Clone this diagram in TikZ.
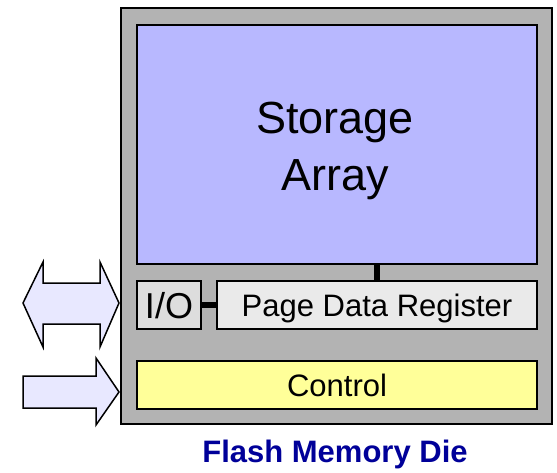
\documentclass[tikz,border=0pt]{standalone}
\usepackage{fontspec}
\setmainfont{Liberation Sans}
\definecolor{diegray}{RGB}{179,179,179}
\definecolor{arrayblue}{RGB}{184,184,255}
\definecolor{iogray}{RGB}{221,221,221}
\definecolor{reggray}{RGB}{234,234,234}
\definecolor{ctrlyellow}{RGB}{255,255,153}
\definecolor{arrowfill}{RGB}{232,232,255}
\definecolor{titleblue}{RGB}{0,0,153}
\tikzset{
    block/.style={draw=black, line width=2pt, anchor=north west, inner sep=0pt, align=center},
    rowtext/.style={text depth=0pt, font=\fontsize{31}{36}\selectfont},
    link/.style={line width=6pt},
    port/.style={draw=black, line width=1.5pt, fill=arrowfill, line join=miter}
}
\begin{document}
\begin{tikzpicture}[x=1pt, y=-1pt]
    \useasboundingbox (0,0) rectangle (557,472);

    % Die
    \node[block, fill=diegray, minimum width=431pt, minimum height=416pt] (die) at (120,7) {};

    % Storage array
    \node[block, fill=arrayblue, minimum width=400pt, minimum height=239pt] (array) at (136,24) {};
    \node[align=center, font=\fontsize{45}{57}\selectfont] (arraytext) at (335,151) {Storage\\Array};

    % I/O and page register
    \node[block, fill=iogray, minimum width=64pt, minimum height=48pt, rowtext,
          font=\fontsize{36}{40}\selectfont] (io) at (136,280) {I/O};
    \node[block, fill=reggray, minimum width=320pt, minimum height=48pt, rowtext] (reg) at (216,280) {Page Data Register};

    % Control
    \node[block, fill=ctrlyellow, minimum width=400pt, minimum height=48pt, rowtext] (ctrl) at (136,360) {Control};

    % Links
    \draw[link] (io.east) -- (reg.west);
    \draw[link] (reg.north) -- (reg.north |- array.south);

    % Data port
    \draw[port] (23,303) -- (43,262) -- (43,283) -- (100,283) -- (100,262) -- (119,303)
        -- (100,347) -- (100,324) -- (43,324) -- (43,347) -- cycle;

    % Control port
    \draw[port] (23,376) -- (96,376) -- (96,358) -- (119,392) -- (96,425)
        -- (96,408) -- (23,408) -- cycle;

    % Title
    \node[titleblue, font=\fontsize{31}{36}\selectfont\bfseries] (title) at (335,454) {Flash Memory Die};
\end{tikzpicture}
\end{document}
